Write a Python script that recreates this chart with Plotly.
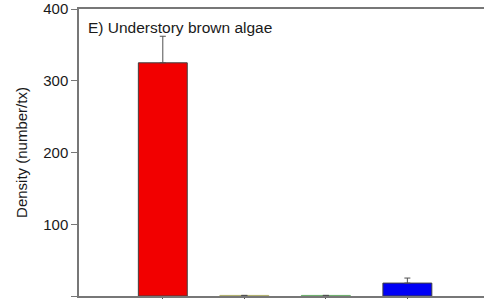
import plotly.graph_objects as go

categories = [1, 2, 3, 4]
density = [325, 0.8, 0.8, 18]
se_upper = [37, 0, 0, 7]
fill_colors = ["#f20000", "#e6e600", "#00b000", "#0000f5"]
edge_colors = ["#404040", "#b0b070", "#70b070", "#404040"]

fig = go.Figure()
fig.add_trace(go.Bar(
    x=categories, y=density, width=0.6,
    marker=dict(color=fill_colors, line=dict(color=edge_colors, width=1)),
    error_y=dict(type="data", array=se_upper, arrayminus=[0]*4, symmetric=False,
                 color="#505050", thickness=1, width=3),
))

fig.update_layout(
    width=484, height=299,
    margin=dict(l=79, r=0, t=9, b=3),
    paper_bgcolor="white", plot_bgcolor="white",
    showlegend=False,
    font=dict(family="Liberation Sans, Arial, sans-serif", size=15, color="#1a1a1a"),
    xaxis=dict(range=[-0.028, 4.94], tickvals=categories, showticklabels=False,
               ticks="outside", ticklen=4, tickcolor="#505050",
               showline=True, linecolor="#777777", linewidth=1.5, mirror=True,
               showgrid=False, zeroline=False),
    yaxis=dict(range=[0, 400], tickvals=[0, 100, 200, 300, 400],
               ticks="outside", ticklen=6, tickcolor="#777777",
               showline=True, linecolor="#777777", linewidth=1.5,
               showgrid=False, zeroline=False,
               title=dict(text="Density (number/tx)", standoff=12,
                          font=dict(size=15))),
    annotations=[dict(text="E) Understory brown algae", xref="paper", yref="paper",
                      x=0.018, y=0.972, xanchor="left", yanchor="top",
                      showarrow=False, font=dict(size=15.5))],
)

fig.write_html(
    "out.html",
    config={"displayModeBar": False},
    post_script="document.body.style.margin='0';document.body.style.overflow='hidden';",
)
